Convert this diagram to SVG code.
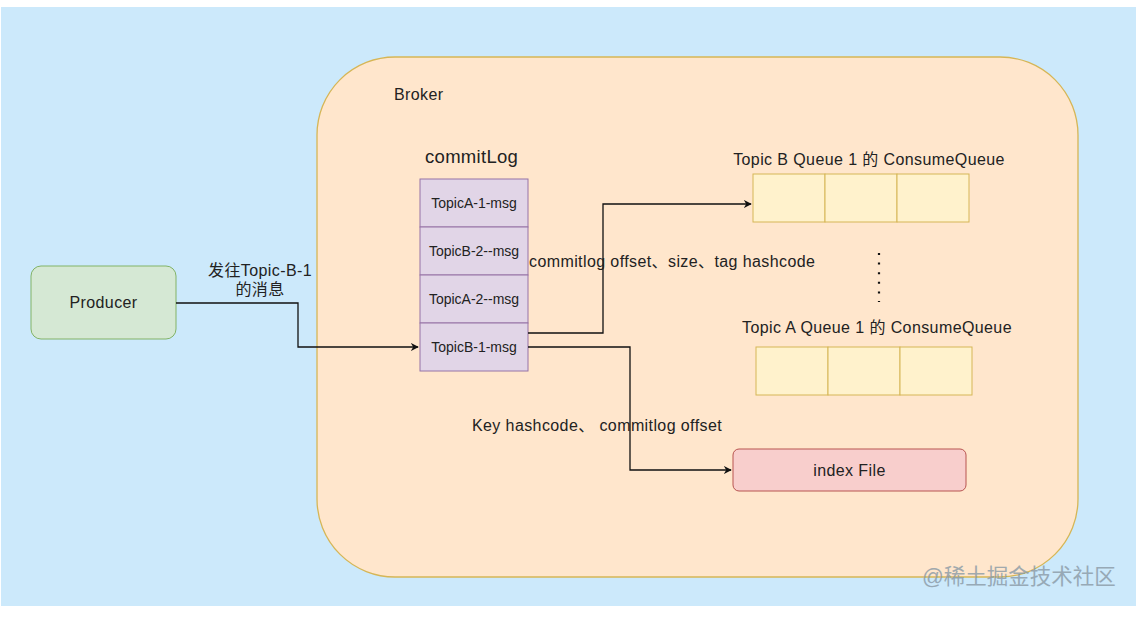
<svg xmlns="http://www.w3.org/2000/svg" width="1147" height="623" viewBox="0 0 1147 623">
<style>
text{font-family:"Liberation Sans","Noto Sans CJK SC",Arial,sans-serif;fill:#222}
.t{font-size:16px;letter-spacing:0.4px}
.s{font-size:14px}
.cell{fill:#fff2cc;stroke:#d6b656;stroke-width:1}
.msg{fill:#e1d5e7;stroke:#9673a6;stroke-width:1}
.ln{fill:none;stroke:#111;stroke-width:1.3}
</style>
<defs>
<marker id="ar" viewBox="0 0 10 10" refX="9" refY="5" markerWidth="8" markerHeight="8" markerUnits="userSpaceOnUse" orient="auto"><path d="M0,0 L10,5 L0,10 L3,5 Z" fill="#111"/></marker>
</defs>
<rect x="0" y="0" width="1147" height="623" fill="#fff"/>
<rect x="1" y="7" width="1135" height="599" fill="#cce9fb"/>
<g id="broker">
<rect x="317" y="57" width="761" height="520" rx="78" ry="78" fill="#ffe6cc" stroke="#d6b656" stroke-width="1.3"/>
<text x="394" y="100" class="t">Broker</text>
</g>
<g id="producer">
<rect x="31" y="266" width="145" height="73" rx="10" fill="#d5e8d4" stroke="#82b366" stroke-width="1"/>
<text x="103.5" y="308" class="t" text-anchor="middle">Producer</text>
</g>
<g id="commitlog">
<text x="425" y="163" style="font-size:18.5px;letter-spacing:0.3px">commitLog</text>
<rect x="420" y="179" width="108" height="48" class="msg"/>
<rect x="420" y="227" width="108" height="48" class="msg"/>
<rect x="420" y="275" width="108" height="48" class="msg"/>
<rect x="420" y="323" width="108" height="48" class="msg"/>
<text x="474" y="208" class="s" text-anchor="middle">TopicA-1-msg</text>
<text x="474" y="256" class="s" text-anchor="middle">TopicB-2--msg</text>
<text x="474" y="304" class="s" text-anchor="middle">TopicA-2--msg</text>
<text x="474" y="352" class="s" text-anchor="middle">TopicB-1-msg</text>
</g>
<g id="queueB">
<text x="869" y="165" class="t" text-anchor="middle">Topic B Queue 1 的 ConsumeQueue</text>
<rect x="753" y="174" width="72" height="48" class="cell"/>
<rect x="825" y="174" width="72" height="48" class="cell"/>
<rect x="897" y="174" width="72" height="48" class="cell"/>
</g>
<g id="dots">
<line x1="879" y1="253" x2="879" y2="302" stroke="#111" stroke-width="2.2" stroke-dasharray="2 7.6"/>
</g>
<g id="queueA">
<text x="877" y="333" class="t" text-anchor="middle">Topic A Queue 1 的 ConsumeQueue</text>
<rect x="756" y="347" width="72" height="48" class="cell"/>
<rect x="828" y="347" width="72" height="48" class="cell"/>
<rect x="900" y="347" width="72" height="48" class="cell"/>
</g>
<g id="indexfile">
<rect x="733" y="449" width="233" height="42" rx="6" fill="#f8cecc" stroke="#b85450" stroke-width="1"/>
<text x="849.5" y="476" class="t" text-anchor="middle">index File</text>
</g>
<g id="connectors">
<path class="ln" d="M176,303 H298 V347 H418" marker-end="url(#ar)"/>
<path class="ln" d="M528,333 H603 V204 H751" marker-end="url(#ar)"/>
<path class="ln" d="M528,347 H630 V470 H731" marker-end="url(#ar)"/>
<text x="260" y="276" class="t" text-anchor="middle">发往Topic-B-1</text>
<text x="260" y="295" class="t" text-anchor="middle">的消息</text>
<text x="529" y="267" class="t">commitlog offset、size、tag hashcode</text>
<text x="472" y="431" class="t">Key hashcode、 commitlog offset</text>
</g>
<text x="922" y="584" style="font-size:21.5px;fill:#8a9aa6;opacity:0.8">@稀土掘金技术社区</text>
</svg>
